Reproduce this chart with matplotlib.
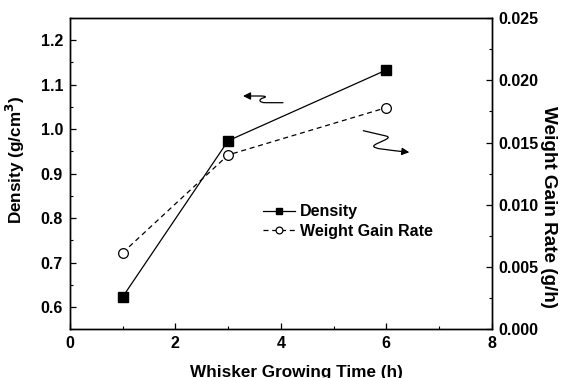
import matplotlib
matplotlib.use("Agg")
import matplotlib.pyplot as plt
from matplotlib.path import Path
from matplotlib.patches import FancyArrowPatch
from matplotlib.ticker import MultipleLocator
import matplotlib.transforms as mtransforms

# Data
time_h = [1, 3, 6]
density = [0.623, 0.974, 1.133]
weight_gain = [0.00615, 0.0140, 0.0178]

plt.rcParams['font.family'] = ['Liberation Sans', 'DejaVu Sans']
plt.rcParams['font.weight'] = 'bold'
plt.rcParams['mathtext.default'] = 'bf'

W, H = 562, 378
AX_L, AX_R, AX_T, AX_B = 70, 491.7, 18, 329.3
fig = plt.figure(figsize=(W / 100, H / 100), dpi=100)
ax = fig.add_axes([AX_L / W, 1 - AX_B / H, (AX_R - AX_L) / W, (AX_B - AX_T) / H])
ax2 = ax.twinx()

l1, = ax.plot(time_h, density, color='black', lw=0.9, marker='s', ms=7,
              mfc='black', mec='black', label='Density')
l2, = ax2.plot(time_h, weight_gain, color='black', lw=0.9, ls=(0, (4, 3)),
               marker='o', ms=7, mfc='white', mec='black', mew=0.9,
               label='Weight Gain Rate')

ax.set_xlim(0, 8)
ax.set_ylim(0.55, 1.25)
ax2.set_ylim(0, 0.025)

ax.xaxis.set_minor_locator(MultipleLocator(1))
ax.yaxis.set_minor_locator(MultipleLocator(0.05))
ax2.yaxis.set_minor_locator(MultipleLocator(0.0025))

ax.set_xticks([0, 2, 4, 6, 8])
ax.set_xticklabels(['0', '2', '4', '6', '8'])
ax.set_yticks([0.6, 0.7, 0.8, 0.9, 1.0, 1.1, 1.2])
ax.set_yticklabels(['0.6', '0.7', '0.8', '0.9', '1.0', '1.1', '1.2'])
ax2.set_yticks([0, 0.005, 0.01, 0.015, 0.02, 0.025])
ax2.set_yticklabels(['0.000', '0.005', '0.010', '0.015', '0.020', '0.025'])

for a in (ax, ax2):
    a.tick_params(which='major', direction='in', length=4.5, width=0.9,
                  labelsize=11.5, pad=5)
    a.tick_params(which='minor', direction='in', length=2.5, width=0.8)
    for s in a.spines.values():
        s.set_linewidth(1.0)
ax.tick_params(axis='y', which='both', right=False)
ax.tick_params(axis='x', which='both', top=False)

def fx(px):
    return (px - AX_L) / (AX_R - AX_L)

def fy(py):
    return (AX_B - py) / (AX_B - AX_T)

ax.set_xlabel('Whisker Growing Time (h)', fontsize=12.3, fontweight='bold')
ax.xaxis.set_label_coords(fx(296.5), fy(372))
ax.xaxis.label.set_verticalalignment('center')
ax.set_ylabel('Density (g/cm$^3$)', fontsize=12.3, fontweight='bold')
ax.yaxis.set_label_coords(fx(15), fy(160))
ax2.set_ylabel('Weight Gain Rate (g/h)', fontsize=13.6, fontweight='bold',
               rotation=-90)
ax2.yaxis.set_label_coords(fx(548), fy(207))
ax.yaxis.label.set_verticalalignment('center')
ax2.yaxis.label.set_verticalalignment('center')

leg = ax.legend([l1, l2], ['Density', 'Weight Gain Rate'], frameon=False,
                loc='upper left', bbox_to_anchor=(0.458, 0.402), borderpad=0,
                borderaxespad=0, handlelength=2.0, handletextpad=0.3,
                labelspacing=0.3, markerscale=0.7,
                prop={'weight': 'bold', 'size': 11.5})

# Pixel-based transform for the decorative arrows
pix = mtransforms.Affine2D().scale(1 / W, -1 / H).translate(0, 1) + fig.transFigure

left_path = Path([(283, 102.7), (266, 102.7),
                  (258, 102.7), (259, 99), (263, 98),
                  (267, 97), (266, 96), (260, 96),
                  (243, 96)],
                 [Path.MOVETO, Path.LINETO,
                  Path.CURVE4, Path.CURVE4, Path.CURVE4,
                  Path.CURVE4, Path.CURVE4, Path.CURVE4,
                  Path.LINETO])
right_path = Path([(363.3, 130.7), (386, 136),
                   (394, 138), (378, 142), (374, 145.5),
                   (371, 149), (390, 150), (409.3, 152.3)],
                  [Path.MOVETO, Path.LINETO,
                   Path.CURVE4, Path.CURVE4, Path.CURVE4,
                   Path.CURVE4, Path.CURVE4, Path.CURVE4])
for p in (left_path, right_path):
    arr = FancyArrowPatch(path=p, arrowstyle='-|>', mutation_scale=11,
                          lw=0.9, color='black', transform=pix)
    fig.add_artist(arr)

fig.savefig('out.png', dpi=100)
